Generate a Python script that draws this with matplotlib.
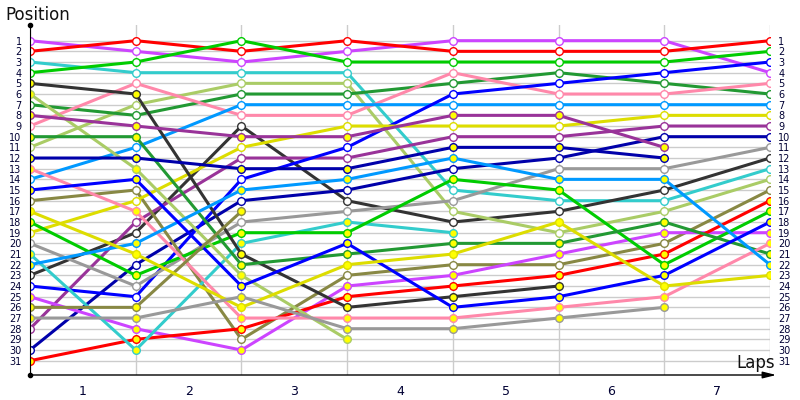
import matplotlib
matplotlib.use('Agg')
import matplotlib.pyplot as plt

# lap numbers (0 = start grid)
laps = [0, 1, 2, 3, 4, 5, 6, 7]
lap_labels = ['1', '2', '3', '4', '5', '6', '7']
positions = list(range(1, 32))

# team colours, each team has a "white" driver and a "yellow" driver
team_colors = {
    'violet': '#cc44ff', 'red': '#ff0000', 'cyan': '#33cccc', 'green': '#00cc00',
    'darkgray': '#333333', 'lightgreen': '#aacc66', 'medgreen': '#229933',
    'purple': '#993399', 'pink': '#ff88aa', 'darkblue': '#0000aa',
    'lightblue': '#0099ff', 'blue': '#0000ff', 'olive': '#888844',
    'yellow': '#dddd00', 'gray': '#999999',
}

# position per lap, None = retired
white_driver = {
    'violet':     [1, 2, 3, 2, 1, 1, 1, 4],
    'red':        [2, 1, 2, 1, 2, 2, 2, 1],
    'cyan':       [3, 4, 4, 4, 15, 16, 16, 13],
    'green':      [4, 3, 1, 3, 3, 3, 3, 2],
    'darkgray':   [23, 19, 9, 16, 18, 17, 15, 12],
    'lightgreen': [11, 7, 5, 5, 17, 19, 17, 14],
    'medgreen':   [7, 8, 6, 6, 5, 4, 5, 6],
    'purple':     [28, 18, 12, 12, 10, 10, 9, 9],
    'pink':       [9, 5, 8, 8, 4, 6, 6, 5],
    'darkblue':   [30, 22, 16, 15, 13, 12, 10, 10],
    'lightblue':  [14, 11, 7, 7, 7, 7, 7, 7],
    'blue':       [24, 25, 14, 11, 6, 5, 4, 3],
    'olive':      [16, 15, 29, 23, 22, 22, 20, 15],
    'yellow':     [19, 16, 11, 9, 9, 9, 8, 8],
    'gray':       [20, 24, 18, 17, 16, 13, 13, 11],
}
yellow_driver = {
    'violet':     [25, 28, 30, 24, 23, 21, 19, 19],
    'red':        [31, 29, 28, 25, 24, 23, 21, 16],
    'cyan':       [21, 30, 20, 18, 19, None, None, None],
    'green':      [18, 23, 19, 19, 14, 15, 22, 17],
    'darkgray':   [5, 6, 21, 26, 25, 24, None, None],
    'lightgreen': [6, 13, 23, 29, None, None, None, None],
    'medgreen':   [10, 10, 22, 21, 20, 20, 18, 21],
    'purple':     [8, 9, 10, 10, 8, 8, 11, None],
    'pink':       [13, 17, 27, 27, 27, 26, 25, 20],
    'darkblue':   [12, 12, 13, 13, 11, 11, 12, None],
    'lightblue':  [22, 20, 15, 14, 12, 14, 14, 22],
    'blue':       [15, 14, 24, 20, 26, 25, 23, 18],
    'olive':      [26, 26, 17, None, None, None, None, None],
    'yellow':     [17, 21, 26, 22, 21, 18, 24, 23],
    'gray':       [27, 27, 25, 28, 28, 27, 26, None],
}

fig = plt.figure(figsize=(8, 4), dpi=100)
ax = fig.add_axes([30/800, 25/400, 740/800, 350/400])
ax.set_xlim(0, 7)
ax.set_ylim(32.34, -0.47)

for drivers, fill in [(white_driver, 'white'), (yellow_driver, '#ffff00')]:
    for team, pos in drivers.items():
        xs = [l for l, p in zip(laps, pos) if p is not None]
        ys = [p for p in pos if p is not None]
        c = team_colors[team]
        ax.plot(xs, ys, color=c, lw=2.2, zorder=2, solid_capstyle='round')
        ax.plot(xs, ys, ls='none', marker='o', ms=5.5, mfc=fill, mec=c, mew=1.0, zorder=3)

# grid and ticks
ax.set_yticks(positions)
ax.set_yticklabels([str(p) for p in positions])
ax.set_xticks([l + 0.5 for l in laps[:-1]])
ax.set_xticklabels(lap_labels)
ax.set_xticks(laps, minor=True)
ax.grid(True, axis='y', which='major', color='#cccccc', lw=1, zorder=1)
ax.grid(True, axis='x', which='minor', color='#cccccc', lw=1, zorder=1)
ax.tick_params(axis='y', length=0, pad=6, labelsize=7, labelcolor='#000033',
               left=False, right=False, labelleft=True, labelright=True)
ax.tick_params(axis='x', which='both', length=0, pad=7, labelsize=9, labelcolor='#000033')

for s in ax.spines.values():
    s.set_visible(False)
ax.spines['left'].set_visible(True)
ax.spines['left'].set_color('black')
ax.spines['left'].set_zorder(4)

# axis line with arrow, and dots at ends
ax.annotate('', xy=(1 + 9/740, 0), xytext=(0, 0), xycoords='axes fraction',
            arrowprops=dict(arrowstyle='-|>,head_length=0.8,head_width=0.2',
                            color='black', lw=1), annotation_clip=False)
ax.plot([0, 0], [0, 1], ls='none', marker='o', ms=3, color='black',
        transform=ax.transAxes, clip_on=False, zorder=5)

fig.text(5/800, 1 - 15/400, 'Position', fontsize=12, ha='left', va='center', color='#111111')
fig.text(775/800, 1 - 363/400, 'Laps', fontsize=12, ha='right', va='center', color='#111111')

fig.savefig('out.png', dpi=100)
